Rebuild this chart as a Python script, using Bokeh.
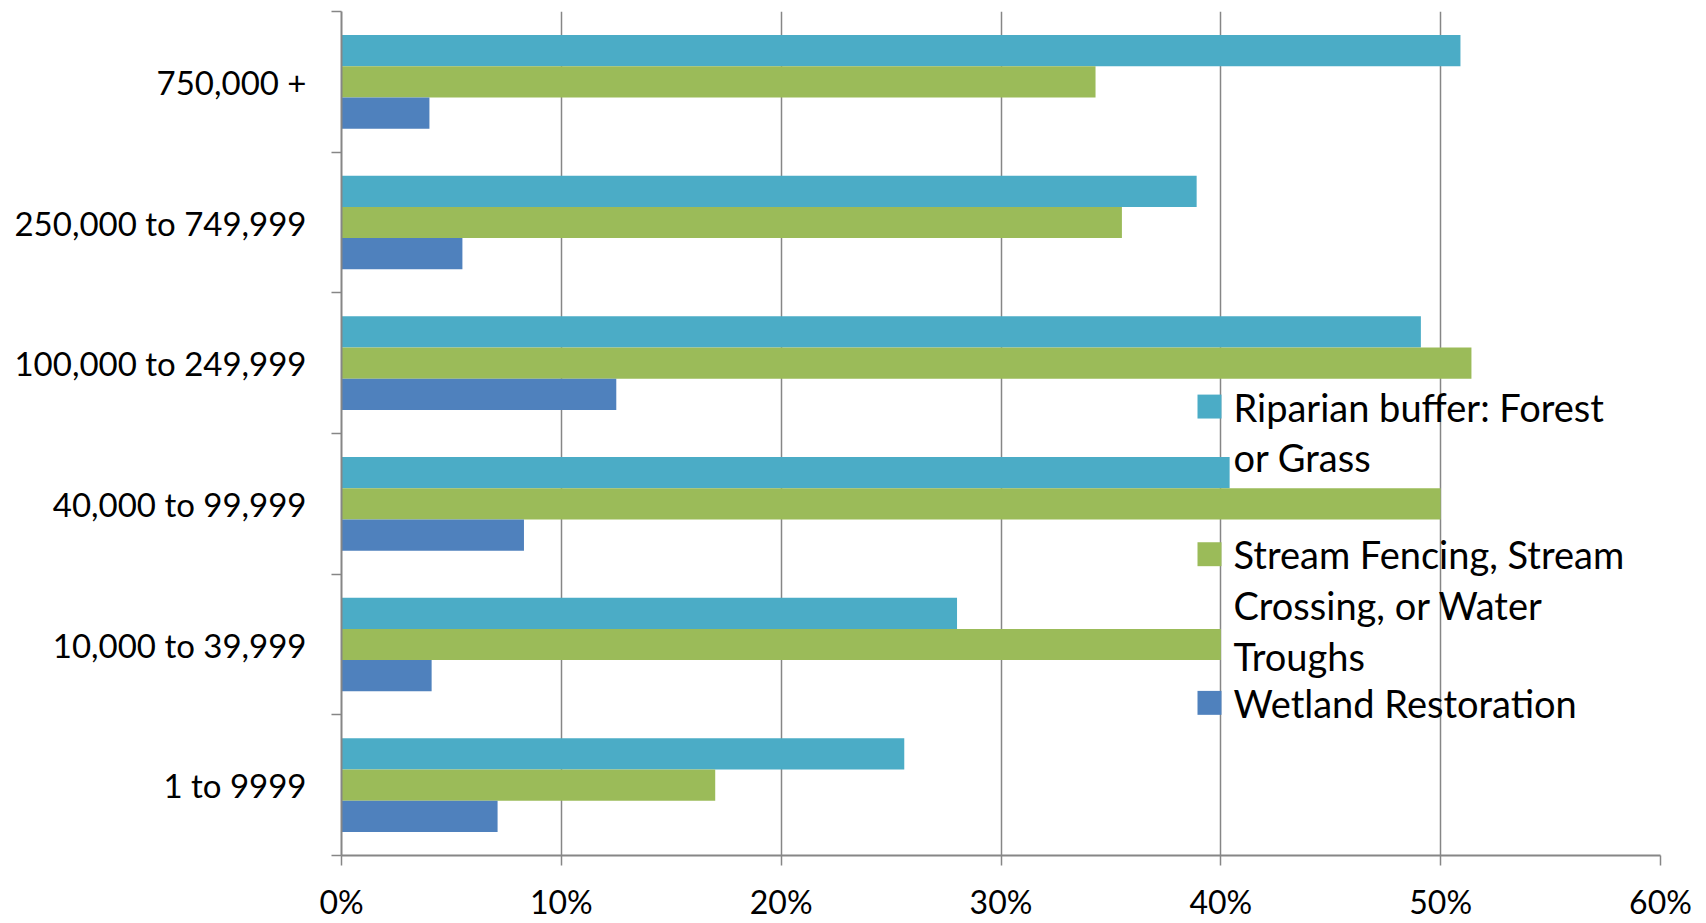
from bokeh.plotting import figure
from bokeh.models import FixedTicker, Range1d, Label, NumeralTickFormatter
from bokeh.embed import file_html
from bokeh.resources import INLINE
import numpy as np

categories = ["1 to 9999", "10,000 to 39,999", "40,000 to 99,999",
              "100,000 to 249,999", "250,000 to 749,999", "750,000 +"]
riparian = [0.256, 0.280, 0.404, 0.491, 0.389, 0.509]
fencing = [0.170, 0.400, 0.500, 0.514, 0.355, 0.343]
wetland = [0.071, 0.041, 0.083, 0.125, 0.055, 0.040]
series_names = ["Riparian buffer: Forest\nor Grass",
                "Stream Fencing, Stream\nCrossing, or Water\nTroughs",
                "Wetland Restoration"]
colors = ["#4BACC6", "#9BBB59", "#4F81BD"]
x_ticks = [0, 0.1, 0.2, 0.3, 0.4, 0.5, 0.6]

FONT = "Lato"
W, H = 1706, 923
L, R, T, B = 341, 46, 11, 66

p = figure(width=W, height=H, output_backend="svg", toolbar_location=None,
           x_range=Range1d(0, 0.6), y_range=Range1d(0, len(categories)),
           min_border_left=L, min_border_right=R, min_border_top=T, min_border_bottom=B)
p.outline_line_color = None

centers = np.arange(len(categories)) + 0.5
bh = 0.222
for vals, col, off in zip([riparian, fencing, wetland], colors, [bh, 0, -bh]):
    p.hbar(y=centers + off, right=vals, left=0, height=bh, fill_color=col, line_color=None)

# axes
xa = p.xaxis[0]
xa.ticker = FixedTicker(ticks=x_ticks)
xa.formatter = NumeralTickFormatter(format="0%")
xa.axis_line_color = "#868686"
xa.axis_line_width = 2
xa.major_tick_line_color = "#868686"
xa.major_tick_line_width = 1.5
xa.major_tick_out = 10
xa.major_tick_in = 0
xa.minor_tick_line_color = None
xa.major_label_text_font = FONT
xa.major_label_text_font_size = "32px"
xa.major_label_text_color = "black"
xa.major_label_standoff = 16

ya = p.yaxis[0]
ya.ticker = FixedTicker(ticks=list(centers), minor_ticks=list(range(len(categories) + 1)))
ya.major_label_overrides = {float(c): n for c, n in zip(centers, categories)}
ya.axis_line_color = "#868686"
ya.axis_line_width = 2
ya.major_tick_line_color = None
ya.minor_tick_line_color = "#868686"
ya.minor_tick_line_width = 1.5
ya.minor_tick_out = 10
ya.minor_tick_in = 0
ya.major_label_text_font = FONT
ya.major_label_text_font_size = "33px"
ya.major_label_text_color = "black"
ya.major_label_standoff = 25

p.xgrid.ticker = FixedTicker(ticks=x_ticks)
p.xgrid.grid_line_color = "#868686"
p.xgrid.grid_line_width = 1.5
p.ygrid.grid_line_color = None

# legend (manual, to allow wrapped labels)
fw = W - L - R
fh = H - T - B
def dx(px):
    return (px - L) / fw * 0.6
def dy(py):
    return (H - B - py) / fh * len(categories)

sq_left, sq_right, txt_x = 1197, 1221, 1233
sq_centers = [407, 555, 704]
line_h = 51
for name, col, cy in zip(series_names, colors, sq_centers):
    p.quad(left=dx(sq_left), right=dx(sq_right), top=dy(cy - 12), bottom=dy(cy + 12),
           fill_color=col, line_color=None)
    for i, line in enumerate(name.split("\n")):
        p.add_layout(Label(x=dx(txt_x), y=dy(cy + i * line_h), text=line,
                           text_font=FONT, text_font_size="38px", text_color="black",
                           text_baseline="middle", text_align="left"))

open("out.html", "w").write(file_html(p, INLINE))
